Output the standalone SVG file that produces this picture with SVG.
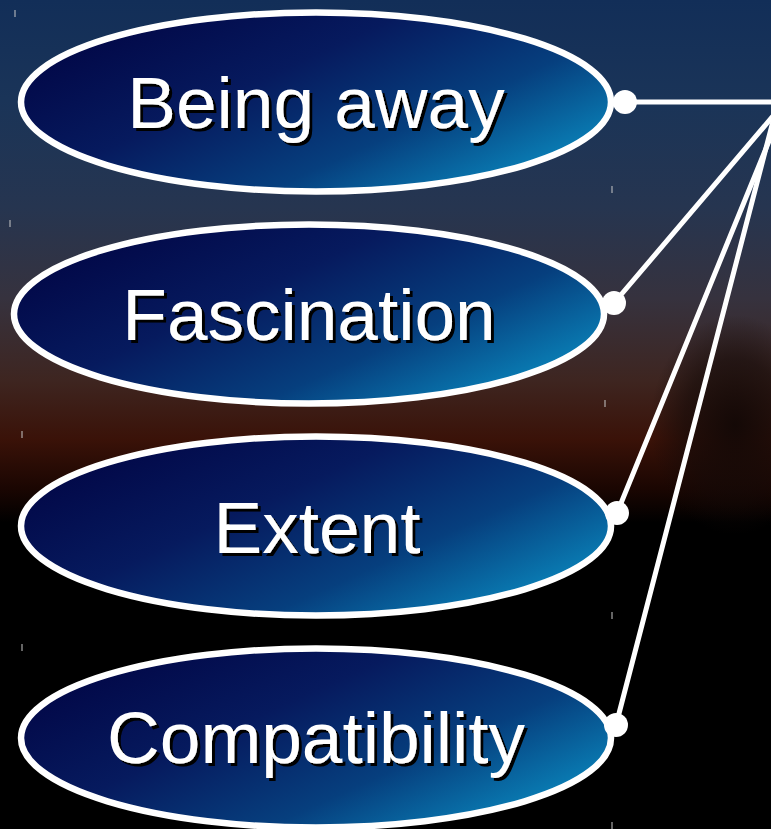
<svg xmlns="http://www.w3.org/2000/svg" width="771" height="829" viewBox="0 0 771 829">
  <defs>
    <linearGradient id="sky" x1="0" y1="0" x2="0" y2="1">
      <stop offset="0" stop-color="#122e58"/>
      <stop offset="0.12" stop-color="#1a3458"/>
      <stop offset="0.25" stop-color="#263550"/>
      <stop offset="0.36" stop-color="#36323e"/>
      <stop offset="0.46" stop-color="#3e2520"/>
      <stop offset="0.53" stop-color="#3a1208"/>
      <stop offset="0.59" stop-color="#1a0602"/>
      <stop offset="0.63" stop-color="#000000"/>
      <stop offset="1" stop-color="#000000"/>
    </linearGradient>
    <linearGradient id="oval" x1="0.1" y1="0.15" x2="1" y2="0.75">
      <stop offset="0" stop-color="#020848"/>
      <stop offset="0.35" stop-color="#061a5e"/>
      <stop offset="0.68" stop-color="#063f7e"/>
      <stop offset="1" stop-color="#0a86bc"/>
    </linearGradient>
    <radialGradient id="tree" cx="0.5" cy="0.5" r="0.5">
      <stop offset="0" stop-color="#120806" stop-opacity="0.95"/>
      <stop offset="0.6" stop-color="#140a08" stop-opacity="0.6"/>
      <stop offset="1" stop-color="#140a08" stop-opacity="0"/>
    </radialGradient>
    <filter id="shadow" x="-5%" y="-10%" width="115%" height="130%">
      <feFlood flood-color="#000000" result="f"/>
      <feComposite in="f" in2="SourceAlpha" operator="in" result="s"/>
      <feOffset in="s" dx="3" dy="3" result="o"/>
      <feMerge>
        <feMergeNode in="o"/>
        <feMergeNode in="SourceGraphic"/>
      </feMerge>
    </filter>
  </defs>
  <style>
    .node ellipse { fill: url(#oval); stroke: #ffffff; stroke-width: 6.5; }
    .lbl { font-family: "Liberation Sans", Arial, sans-serif; font-size: 73px; text-anchor: middle; fill: #ffffff; filter: url(#shadow); }
    .conn line { stroke: #ffffff; stroke-width: 5; stroke-linecap: round; }
    .dot { fill: #ffffff; }
    .tick { stroke: #c8c8c8; stroke-width: 1; }
  </style>

  <rect x="0" y="0" width="771" height="829" fill="url(#sky)"/>
  <ellipse cx="735" cy="425" rx="85" ry="110" fill="url(#tree)"/>

  <g class="ticks">
    <line class="tick" x1="15" y1="10" x2="15" y2="17"/>
    <line class="tick" x1="612" y1="186" x2="612" y2="193"/>
    <line class="tick" x1="10" y1="220" x2="10" y2="227"/>
    <line class="tick" x1="605" y1="400" x2="605" y2="407"/>
    <line class="tick" x1="22" y1="431" x2="22" y2="438"/>
    <line class="tick" x1="612" y1="612" x2="612" y2="619"/>
    <line class="tick" x1="22" y1="644" x2="22" y2="651"/>
    <line class="tick" x1="612" y1="822" x2="612" y2="829"/>
  </g>

  <g id="connectors" class="conn">
    <line x1="625" y1="102" x2="785" y2="102"/>
    <line x1="614" y1="303" x2="785" y2="102"/>
    <line x1="617" y1="513" x2="785" y2="102"/>
    <line x1="616" y1="725" x2="778" y2="102"/>
  </g>

  <g id="node-being-away" class="node">
    <ellipse cx="316" cy="102" rx="295" ry="89.5"/>
    <text class="lbl" x="316" y="128">Being away</text>
    <circle class="dot" cx="625" cy="102" r="12"/>
  </g>
  <g id="node-fascination" class="node">
    <ellipse cx="309" cy="314" rx="295" ry="89.5"/>
    <text class="lbl" x="309" y="340">Fascination</text>
    <circle class="dot" cx="614" cy="303" r="12"/>
  </g>
  <g id="node-extent" class="node">
    <ellipse cx="316" cy="526" rx="295" ry="89.5"/>
    <text class="lbl" x="317" y="553">Extent</text>
    <circle class="dot" cx="617" cy="513" r="12"/>
  </g>
  <g id="node-compatibility" class="node">
    <ellipse cx="316" cy="738" rx="295" ry="89.5"/>
    <text class="lbl" x="316" y="763">Compatibility</text>
    <circle class="dot" cx="616" cy="725" r="12"/>
  </g>
</svg>
